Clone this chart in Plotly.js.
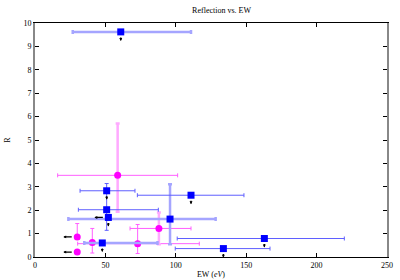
<!DOCTYPE html>
<html>
<head>
<meta charset="utf-8">
<script src="https://cdn.plot.ly/plotly-3.0.1.min.js"></script>
<style>html,body{margin:0;padding:0;background:#fff;}#chart{width:400px;height:280px;}</style>
</head>
<body>
<div id="chart"></div>
<script>
// Blue squares, thin error bars
const blueEW   = [50.9, 50.9, 52.1, 110.8, 162.9, 133.8];
const blueR    = [2.83, 2.02, 1.69, 2.64, 0.79, 0.36];
const blueXLo  = [32.0, 30.8, 52.1, 72.7, 101.0, 99.6];
const blueXHi  = [71.0, 87.6, 52.1, 148.4, 219.7, 166.9];
const blueYLo  = [2.83, 1.14, 1.69, 2.64, 0.79, 0.36];
const blueYHi  = [2.83, 3.14, 1.69, 2.64, 0.79, 0.36];

// Blue squares, light thick error bars
const blueLEW  = [60.9, 95.9, 47.8];
const blueLR   = [9.62, 1.62, 0.60];
const blueLXLo = [26.8, 23.7, 35.0];
const blueLXHi = [110.8, 128.3, 87.0];
const blueLYLo = [9.62, 0.54, 0.60];
const blueLYHi = [9.62, 3.11, 0.60];

// Magenta circles with light vertical bars
const magAEW  = [58.7, 88.0];
const magAR   = [3.49, 1.22];
const magAXLo = [16.1, 67.5];
const magAXHi = [101.3, 110.8];
const magAYLo = [1.93, 0.55];
const magAYHi = [5.71, 1.90];

// Magenta circles with thin bars
const magBEW  = [72.9, 40.7, 30.0, 30.0];
const magBR   = [0.57, 0.62, 0.86, 0.21];
const magBXLo = [30.3, 40.7, 30.0, 30.0];
const magBXHi = [116.7, 40.7, 30.0, 30.0];
const magBYLo = [0.15, 0.17, 0.86, 0.21];
const magBYHi = [1.39, 1.22, 1.43, 0.21];

// Upper limits (arrows)
const downEW = [60.9, 50.9, 52.1, 110.8, 162.9, 133.8, 47.8];
const downR  = [9.62, 2.83, 1.69, 2.64, 0.79, 0.36, 0.60];
const leftEW = [52.1, 30.0, 30.0];
const leftR  = [1.69, 0.86, 0.21];

const BLUE = 'rgb(0,0,255)';
const BLUE_THIN = 'rgb(95,95,255)';
const BLUE_LIGHT = 'rgb(165,165,255)';
const MAG = 'rgb(255,0,255)';
const MAG_THIN = 'rgb(255,95,255)';
const MAG_LIGHT = 'rgb(255,170,255)';

function minus(v, lo){ return v.map((x,i)=>x-lo[i]); }
function plus(v, hi){ return v.map((x,i)=>hi[i]-x); }

function errTrace(x, y, xlo, xhi, ylo, yhi, symbol, mcol, exStyle, eyStyle, size){
  return {
    type:'scatter', mode:'markers', x:x, y:y,
    marker:{symbol:symbol, size:size, color:mcol},
    error_x:Object.assign({type:'data', symmetric:false, array:plus(x,xhi), arrayminus:minus(x,xlo), width:2}, exStyle),
    error_y:Object.assign({type:'data', symmetric:false, array:plus(y,yhi), arrayminus:minus(y,ylo), width:2}, eyStyle),
    hoverinfo:'skip', showlegend:false
  };
}

const data = [
  errTrace(magBEW, magBR, magBXLo, magBXHi, magBYLo, magBYHi, 'circle', MAG,
    {color:MAG_THIN, thickness:1}, {color:MAG_THIN, thickness:1}, 7),
  errTrace(magAEW, magAR, magAXLo, magAXHi, magAYLo, magAYHi, 'circle', MAG,
    {color:MAG_THIN, thickness:1}, {color:MAG_LIGHT, thickness:2.5}, 7),
  errTrace(blueLEW, blueLR, blueLXLo, blueLXHi, blueLYLo, blueLYHi, 'square', BLUE,
    {color:BLUE_LIGHT, thickness:2.5}, {color:BLUE_LIGHT, thickness:2.5}, 7),
  errTrace(blueEW, blueR, blueXLo, blueXHi, blueYLo, blueYHi, 'square', BLUE,
    {color:BLUE_THIN, thickness:1}, {color:BLUE_THIN, thickness:1}, 7)
];

const annotations = [];
downEW.forEach((x,i)=>annotations.push({
  x:x, y:downR[i], xref:'x', yref:'y', text:'', showarrow:true,
  ax:0, ay:-5, yshift:-9, arrowhead:2, arrowsize:0.45, arrowwidth:1.3, arrowcolor:'#000'
}));
leftEW.forEach((x,i)=>annotations.push({
  x:x, y:leftR[i], xref:'x', yref:'y', text:'', showarrow:true,
  ax:10, ay:0, xshift:-14, arrowhead:2, arrowsize:0.45, arrowwidth:1.3, arrowcolor:'#000'
}));

const FONT = 'Liberation Serif, Times New Roman, serif';
const layout = {
  width:400, height:280,
  margin:{l:35, r:13, t:23, b:23, pad:0},
  paper_bgcolor:'#fff', plot_bgcolor:'#fff',
  font:{family:FONT, size:8, color:'#000'},
  title:{text:'Reflection vs. EW', x:0.53, xref:'paper', y:0.965, yanchor:'middle', font:{family:FONT, size:8, color:'#000'}},
  xaxis:{range:[0,250], dtick:50, tick0:0, ticks:'inside', ticklen:4, tickcolor:'#000',
    showline:true, linecolor:'#000', linewidth:1, mirror:'ticks', showgrid:false, zeroline:false,
    tickfont:{family:FONT, size:8},
    title:{text:'EW (<i>eV</i>)', font:{family:FONT, size:8}, standoff:2}},
  yaxis:{range:[0,10], dtick:1, tick0:0, ticks:'inside', ticklen:4, tickcolor:'#000',
    showline:true, linecolor:'#888', linewidth:2, mirror:'ticks', showgrid:false, zeroline:false,
    tickfont:{family:FONT, size:8},
    title:{text:'R', font:{family:FONT, size:8}, standoff:12}},
  annotations:annotations,
  showlegend:false
};

Plotly.newPlot('chart', data, layout, {staticPlot:true, displayModeBar:false});
</script>
</body>
</html>
